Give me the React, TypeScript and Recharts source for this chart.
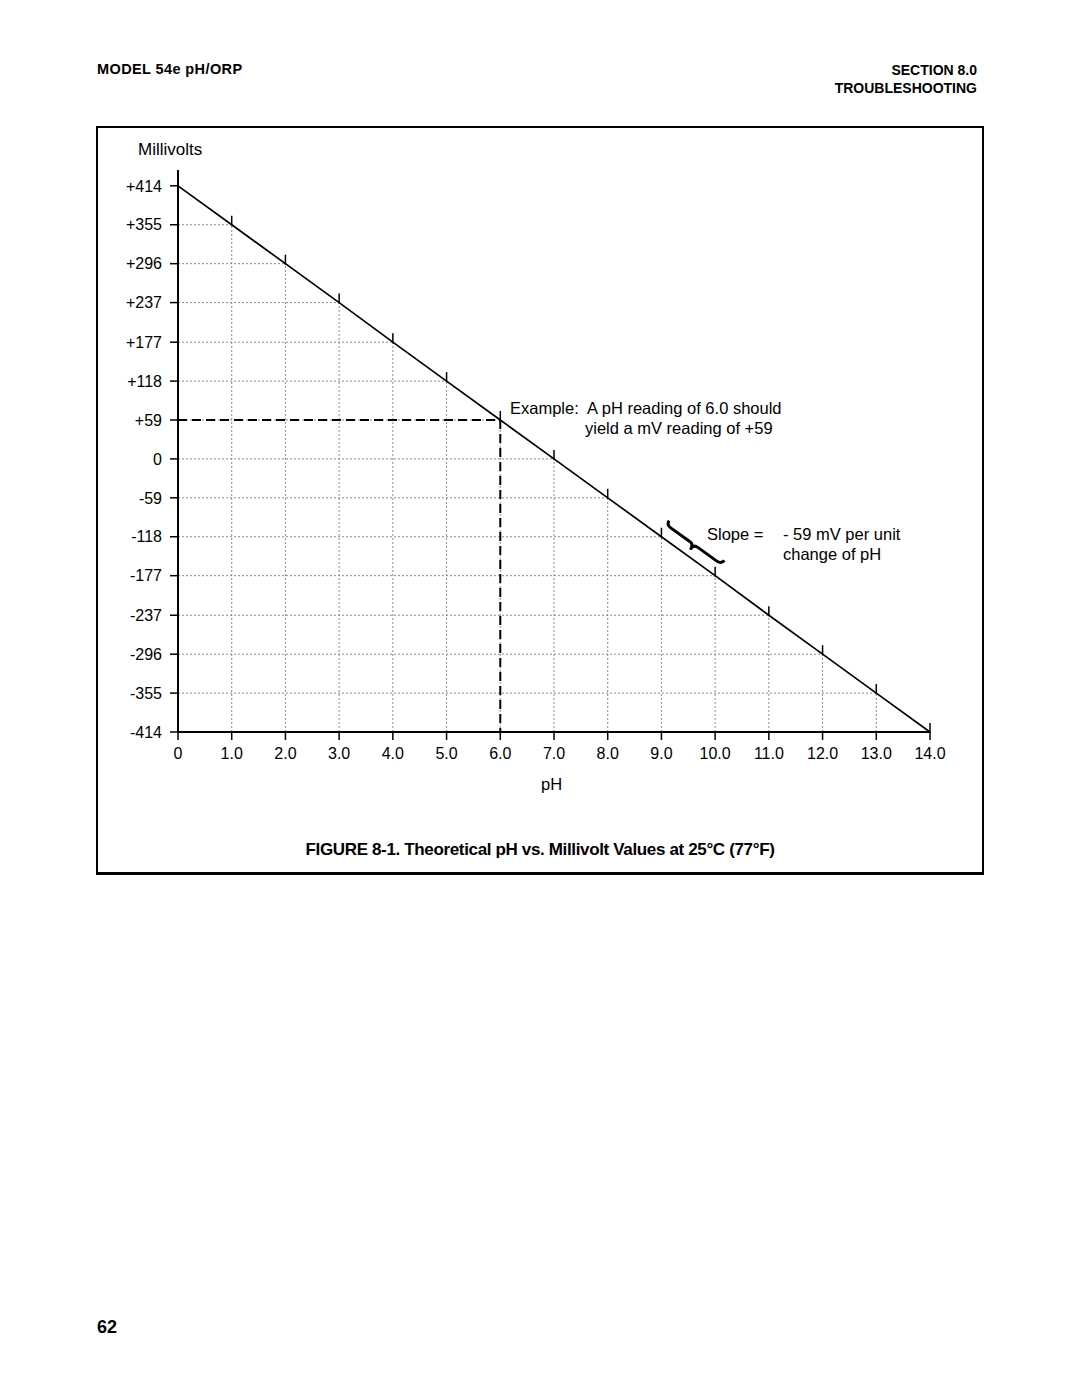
import React from "react";
import { LineChart, Line, XAxis, YAxis, ReferenceLine, ReferenceDot } from "recharts";

// theoretical values at 25°C, one per pH unit
const PH = [0, 1, 2, 3, 4, 5, 6, 7, 8, 9, 10, 11, 12, 13, 14];
const MV = [414, 355, 296, 237, 177, 118, 59, 0, -59, -118, -177, -237, -296, -355, -414];
const EXAMPLE = { ph: 6, mv: 59 };
const SLOPE_AT = { ph: 9, mv: -118 };

const data = PH.map((ph, i) => ({ ph, mv: MV[i] }));

const FONT = "'Liberation Sans', Arial, Helvetica, sans-serif";
const GRID = "#8a8a8a";

/* small vertical tick sitting on the line at each pH unit */
function LineTick(p: any) {
  const { cx, cy, index } = p;
  if (cx == null || cy == null) return <g key={index} />;
  return <line key={index} x1={cx} x2={cx} y1={cy - 9} y2={cy + 1} stroke="#000" strokeWidth={1.5} />;
}

/* curly brace lying along the line between pH 9 and 10 */
function Brace(p: any) {
  const { cx, cy } = p;
  if (cx == null) return <g />;
  const L = 68;
  const h = L / 2;
  const d = `M0,-5 Q0,0 6,0 L${h - 5},0 Q${h},0 ${h},5 Q${h},0 ${h + 5},0 L${L - 6},0 Q${L},0 ${L},-5`;
  return (
    <g transform={`translate(${cx - 4},${cy}) rotate(35.8) translate(0,-15)`}>
      <path d={d} fill="none" stroke="#000" strokeWidth={3} strokeLinejoin="round" />
    </g>
  );
}

export default function App() {
  const abs = (s: React.CSSProperties): React.CSSProperties => ({ position: "absolute", ...s });
  return (
    <div style={abs({ left: 0, top: 0, width: 1080, height: 1397, background: "#fff", fontFamily: FONT, color: "#000" })}>
      <div style={abs({ left: 97, top: 61, fontWeight: 700, fontSize: 14.5, letterSpacing: 0.4 })}>MODEL 54e pH/ORP</div>
      <div style={abs({ right: 103, top: 61, fontWeight: 700, fontSize: 14, textAlign: "right", lineHeight: "18px" })}>
        SECTION 8.0<br />TROUBLESHOOTING
      </div>

      <div style={abs({ left: 96, top: 126, width: 884, height: 744, border: "2px solid #000", borderBottomWidth: 3 })} />

      <div style={abs({ left: 0, top: 0 })}>
        <LineChart width={1080} height={800} data={data} margin={{ top: 170, right: 150, bottom: 38, left: 118 }}>
          <XAxis
            dataKey="ph"
            type="number"
            domain={[0, 14]}
            ticks={PH}
            tickFormatter={(v) => (v === 0 ? "0" : Number(v).toFixed(1))}
            height={30}
            axisLine={{ stroke: "#000", strokeWidth: 2 }}
            tickLine={{ stroke: "#000", strokeWidth: 1.5 }}
            tickSize={8}
            tickMargin={8}
            tick={{ fontSize: 16, fill: "#000", fontFamily: FONT }}
          />
          <YAxis
            type="number"
            domain={[-414, 438]}
            ticks={MV}
            interval={0}
            tickFormatter={(v) => (v > 0 ? `+${v}` : `${v}`)}
            width={60}
            axisLine={{ stroke: "#000", strokeWidth: 2 }}
            tickLine={{ stroke: "#000", strokeWidth: 1.5 }}
            tickSize={8}
            tickMargin={8}
            tick={{ fontSize: 16, fill: "#000", fontFamily: FONT }}
          />

          {/* dotted grid bounded by the line (lower-left triangle) */}
          {data.slice(1, -1).map((d) => (
            <ReferenceLine
              key={`h${d.ph}`}
              segment={[{ x: 0, y: d.mv }, { x: d.ph, y: d.mv }]}
              stroke={GRID}
              strokeWidth={1}
              strokeDasharray="2 2"
            />
          ))}
          {data.slice(1, -1).map((d) => (
            <ReferenceLine
              key={`v${d.ph}`}
              segment={[{ x: d.ph, y: MV[MV.length - 1] }, { x: d.ph, y: d.mv }]}
              stroke={GRID}
              strokeWidth={1}
              strokeDasharray="2 2"
            />
          ))}

          {/* example pH 6.0 -> +59 mV */}
          <ReferenceLine
            segment={[{ x: 0, y: EXAMPLE.mv }, { x: EXAMPLE.ph, y: EXAMPLE.mv }]}
            stroke="#000"
            strokeWidth={2}
            strokeDasharray="9 5"
          />
          <ReferenceLine
            segment={[{ x: EXAMPLE.ph, y: EXAMPLE.mv }, { x: EXAMPLE.ph, y: MV[MV.length - 1] }]}
            stroke="#000"
            strokeWidth={2}
            strokeDasharray="9 5"
          />

          <Line
            dataKey="mv"
            type="linear"
            stroke="#000"
            strokeWidth={1.7}
            dot={LineTick}
            activeDot={false}
            isAnimationActive={false}
          />
          <ReferenceDot x={SLOPE_AT.ph} y={SLOPE_AT.mv} r={0} shape={Brace} />
        </LineChart>
      </div>

      <div style={abs({ left: 138, top: 140, fontSize: 17 })}>Millivolts</div>
      <div style={abs({ left: 510, top: 398, fontSize: 16.5, lineHeight: "20px" })}>
        Example:&nbsp; A pH reading of 6.0 should
        <br />
        <span style={{ paddingLeft: 75 }}>yield a mV reading of +59</span>
      </div>
      <div style={abs({ left: 707, top: 524, fontSize: 16.5, lineHeight: "20px" })}>Slope =</div>
      <div style={abs({ left: 783, top: 524, fontSize: 16.5, lineHeight: "20px" })}>
        - 59 mV per unit
        <br />
        change of pH
      </div>
      <div style={abs({ left: 541, top: 775, fontSize: 16.5 })}>pH</div>

      <div style={abs({ left: 96, width: 888, top: 840, textAlign: "center", fontWeight: 700, fontSize: 17, letterSpacing: -0.35 })}>
        FIGURE 8-1. Theoretical pH vs. Millivolt Values at 25°C (77°F)
      </div>

      <div style={abs({ left: 97, top: 1317, fontWeight: 700, fontSize: 18 })}>62</div>
    </div>
  );
}
